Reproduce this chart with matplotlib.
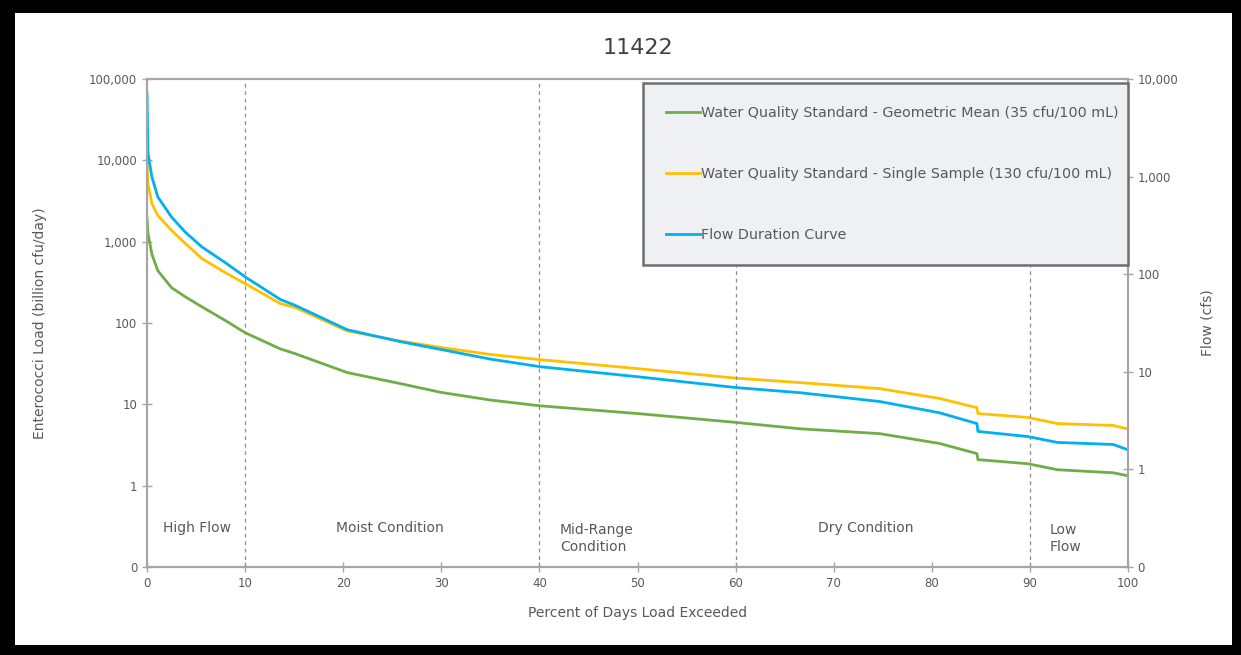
import numpy as np
import matplotlib.pyplot as plt
from matplotlib.patches import Rectangle

# percent of days load exceeded
pct = [0, 0.1, 0.5, 1.1, 2.5, 3.9, 5.6, 8.0, 10, 13.6, 15.1, 20.4, 25.8, 30,
       35, 40, 50, 60, 66.6, 74.7, 80.8, 84.6, 84.7, 89.8, 92.8, 98.5, 99.9, 100]

# carga (billion cfu/day), eje izquierdo
geo_mean = [1970, 1260, 700, 440, 272, 210, 158, 107, 76, 48, 42, 24.6, 18, 14,
            11.3, 9.6, 7.7, 6.0, 5.0, 4.36, 3.3, 2.48, 2.09, 1.86, 1.57, 1.44,
            1.33, 1.33]
single = [10000, 5150, 2940, 2100, 1380, 950, 620, 415, 305, 173, 155, 80, 60,
          50, 41, 35.5, 27.5, 21, 18.5, 15.6, 11.8, 9.1, 7.7, 6.9, 5.8, 5.5,
          5.0, 5.0]
# caudal (cfs), eje derecho
flow = [7100, 1740, 990, 620, 385, 270, 190, 131, 94, 55, 48, 27, 20.4, 16.9,
        13.5, 11.3, 8.9, 6.9, 6.1, 4.96, 3.8, 2.95, 2.45, 2.17, 1.89, 1.8, 1.6,
        1.6]

left_ticks = [0.1, 1, 10, 100, 1e3, 1e4, 1e5]
left_labels = ['0', '1', '10', '100', '1,000', '10,000', '100,000']
right_ticks = [0.1, 1, 10, 100, 1e3, 1e4]
right_labels = ['0', '1', '10', '100', '1,000', '10,000']

zones = [10, 40, 60, 90]
zone_text = [(5.1, 'High Flow', 'center'), (24.8, 'Moist Condition', 'center'),
             (42.1, 'Mid-Range\nCondition', 'left'), (73.3, 'Dry Condition', 'center'),
             (92.0, 'Low\nFlow', 'left')]

txt = '#595959'
spine = '#a6a6a6'

fig = plt.figure(figsize=(12.41, 6.55), dpi=100)
fig.patch.set_facecolor('black')
fig.patches.append(Rectangle((15/1241, 1-645/655), (1232-15)/1241, (645-13)/655,
                             transform=fig.transFigure, facecolor='white',
                             edgecolor='none', zorder=-5))

ax = fig.add_axes([147/1241, 1-567/655, (1128-147)/1241, (567-79)/655])
ax.set_facecolor('none')
ax2 = ax.twinx()

l1, = ax.plot(pct, geo_mean, color='#70AD47', lw=2,
              label='Water Quality Standard - Geometric Mean (35 cfu/100 mL)')
l2, = ax.plot(pct, single, color='#FFC000', lw=2,
              label='Water Quality Standard - Single Sample (130 cfu/100 mL)')
l3, = ax2.plot(pct, flow, color='#00B0F0', lw=2, label='Flow Duration Curve')

for z in zones:
    ax.axvline(z, color='#8c8c8c', ls=(0, (3, 3)), lw=0.9)

for x, s, ha in zone_text:
    ax.text(x, 0.08 if '\n' not in s else 0.058, s, ha=ha, va='center',
            transform=ax.get_xaxis_transform(), color=txt, fontsize=10,
            linespacing=1.3)

ax.set_xlim(0, 100)
ax.set_xticks(np.arange(0, 101, 10))
ax.set_yscale('log')
ax.set_ylim(0.1, 1e5)
ax.set_yticks(left_ticks)
ax.set_yticklabels(left_labels)
ax.minorticks_off()
ax2.set_yscale('log')
ax2.set_ylim(0.1, 1e4)
ax2.set_yticks(right_ticks)
ax2.set_yticklabels(right_labels)
ax2.minorticks_off()

for a in (ax, ax2):
    for s in a.spines.values():
        s.set_color(spine)
        s.set_linewidth(1.5)
    a.tick_params(colors=spine, labelcolor=txt, labelsize=8.5, direction='inout',
                  length=7, width=1)

ax.set_xlabel('Percent of Days Load Exceeded', color=txt, fontsize=10, labelpad=12)
ax.set_ylabel('Enterococci Load (billion cfu/day)', color=txt, fontsize=10, labelpad=30)
ax2.set_ylabel('Flow (cfs)', color=txt, fontsize=10, labelpad=16)
ax.set_title('11422', color='#404040', fontsize=16, pad=18)

leg = ax2.legend(handles=[l1, l2, l3], loc='upper left',
                 bbox_to_anchor=(0.5056, 0.992, 0.4944, 0.0), mode='expand',
                 borderaxespad=0, fontsize=10.3, labelspacing=3.3,
                 handlelength=2.4, handletextpad=0.05, borderpad=1.6,
                 fancybox=False, labelcolor=txt)
leg.get_frame().set_facecolor('#eef0f3')
leg.get_frame().set_edgecolor('#6e6e6e')
leg.get_frame().set_linewidth(1.8)
leg.get_frame().set_alpha(1)

plt.savefig('out.png', dpi=100, facecolor=fig.get_facecolor())
